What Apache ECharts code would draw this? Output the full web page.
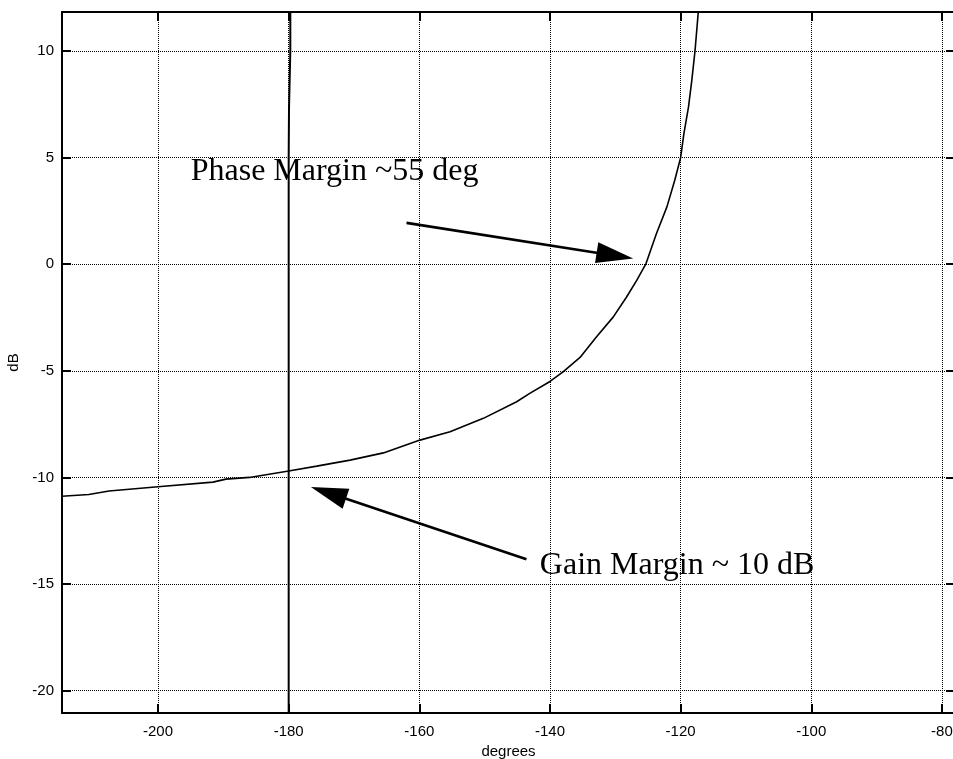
<!DOCTYPE html>
<html><head><meta charset="utf-8">
<script src="https://cdn.jsdelivr.net/npm/echarts@6/dist/echarts.min.js"></script>
<style>html,body{margin:0;padding:0;background:#fff}#c{width:953px;height:759px}</style>
</head><body><div id="c"></div>
<script>
// Nichols curve (phase in degrees, gain in dB)
const curveDeg = [-214.7,-210.6,-207.5,-200.0,-191.6,-189.6,-186.0,-180.0,-175.7,-170.6,-165.5,-159.9,-155.3,-150.2,-145.1,-143.1,-140.0,-138.0,-135.4,-132.9,-130.3,-128.3,-126.7,-125.3,-123.7,-122.1,-120.9,-120.0,-119.5,-118.8,-118.3,-117.8,-117.3];
const curveDb  = [-10.88,-10.80,-10.64,-10.44,-10.22,-10.08,-10.00,-9.70,-9.47,-9.19,-8.85,-8.25,-7.86,-7.23,-6.45,-6.06,-5.50,-5.05,-4.37,-3.41,-2.47,-1.55,-0.75,0.03,1.44,2.69,3.94,5.00,6.13,7.37,8.60,10.00,11.83];
// near-vertical line at -180 deg
const vertDeg = [-179.75,-179.75,-179.95,-180.0,-180.0];
const vertDb  = [11.83,10.0,7.3,5.0,-21.05];
// axis extents
const xRange = [-214.7,-78.0];
const yRange = [-21.05,11.83];
// annotations (data coordinates)
const arrowTails = [[-161.96,1.94],[-143.6,-13.84]];
const arrowTips  = [[-127.26,0.27],[-176.6,-10.45]];
const noteTexts  = ['Phase Margin ~55 deg','Gain Margin ~ 10 dB'];
const noteAnchors = [[-195.0,4.36],[-141.55,-14.15]];

const chart = echarts.init(document.getElementById('c'), null, {renderer:'canvas'});
const axisFont = {fontFamily:'Liberation Sans, Arial, sans-serif', fontSize:15, color:'#000'};
const baseAxis = {
  type:'value', splitNumber:7,
  axisLine:{show:true, onZero:false, lineStyle:{color:'#000', width:2}},
  axisTick:{show:true, inside:true, length:9, lineStyle:{color:'#000', width:2}},
};
function fmt(step){ return v => (Math.abs(v/step - Math.round(v/step)) < 1e-6 ? String(Math.round(v)) : ''); }

chart.setOption({
  animation:false,
  backgroundColor:'#fff',
  grid:{left:62, top:12, width:893, bottom:46, containLabel:false, outerBoundsMode:'none'},
  xAxis:[
    Object.assign({}, baseAxis, {position:'bottom', min:xRange[0], max:xRange[1],
      name:'degrees', nameLocation:'middle', nameGap:27, nameTextStyle:axisFont,
      axisLabel:Object.assign({margin:11, formatter:fmt(20)}, axisFont),
      splitLine:{show:true, lineStyle:{color:'#000', width:1, type:[1,1]}}}),
    Object.assign({}, baseAxis, {position:'top', min:xRange[0], max:xRange[1],
      axisLabel:{show:false}, splitLine:{show:false}})
  ],
  yAxis:[
    Object.assign({}, baseAxis, {position:'left', min:yRange[0], max:yRange[1],
      name:'dB', nameLocation:'middle', nameGap:38, nameRotate:90, nameTextStyle:axisFont,
      axisLabel:Object.assign({margin:8, formatter:fmt(5)}, axisFont),
      splitLine:{show:true, lineStyle:{color:'#000', width:1, type:[1,1]}}}),
    Object.assign({}, baseAxis, {position:'right', min:yRange[0], max:yRange[1],
      axisLabel:{show:false}, splitLine:{show:false}})
  ],
  series:[
    {type:'line', data:curveDeg.map((x,i)=>[x,curveDb[i]]), showSymbol:false, symbol:'none',
     lineStyle:{color:'#000', width:1.6}, clip:true, z:3},
    {type:'line', data:vertDeg.map((x,i)=>[x,vertDb[i]]), showSymbol:false, symbol:'none',
     lineStyle:{color:'#000', width:2}, clip:true, z:3},
    {type:'custom', clip:false, z:5,
     data:arrowTails.map((t,i)=>[t[0],t[1],arrowTips[i][0],arrowTips[i][1]]),
     renderItem:function(params, api){
       const p1 = api.coord([api.value(0),api.value(1)]);
       const p2 = api.coord([api.value(2),api.value(3)]);
       const dx=p2[0]-p1[0], dy=p2[1]-p1[1], L=Math.hypot(dx,dy), ux=dx/L, uy=dy/L;
       const hl=37, hw=10.5;
       const bx=p2[0]-ux*hl, by=p2[1]-uy*hl;
       return {type:'group', children:[
         {type:'line', shape:{x1:p1[0],y1:p1[1],x2:bx+ux*3,y2:by+uy*3}, style:{stroke:'#000', lineWidth:2.6}},
         {type:'polygon', shape:{points:[[p2[0],p2[1]],[bx-uy*hw,by+ux*hw],[bx+uy*hw,by-ux*hw]]}, style:{fill:'#000'}}
       ]};
     }},
    {type:'custom', clip:false, z:6,
     data:noteAnchors.map((a,i)=>[a[0],a[1],i]),
     renderItem:function(params, api){
       const p = api.coord([api.value(0),api.value(1)]);
       return {type:'text', x:p[0], y:p[1], style:{text:noteTexts[api.value(2)],
         font:'32px "Liberation Serif", "Times New Roman", serif', fill:'#000',
         align:'left', verticalAlign:'middle'}};
     }}
  ]
});
</script></body></html>
